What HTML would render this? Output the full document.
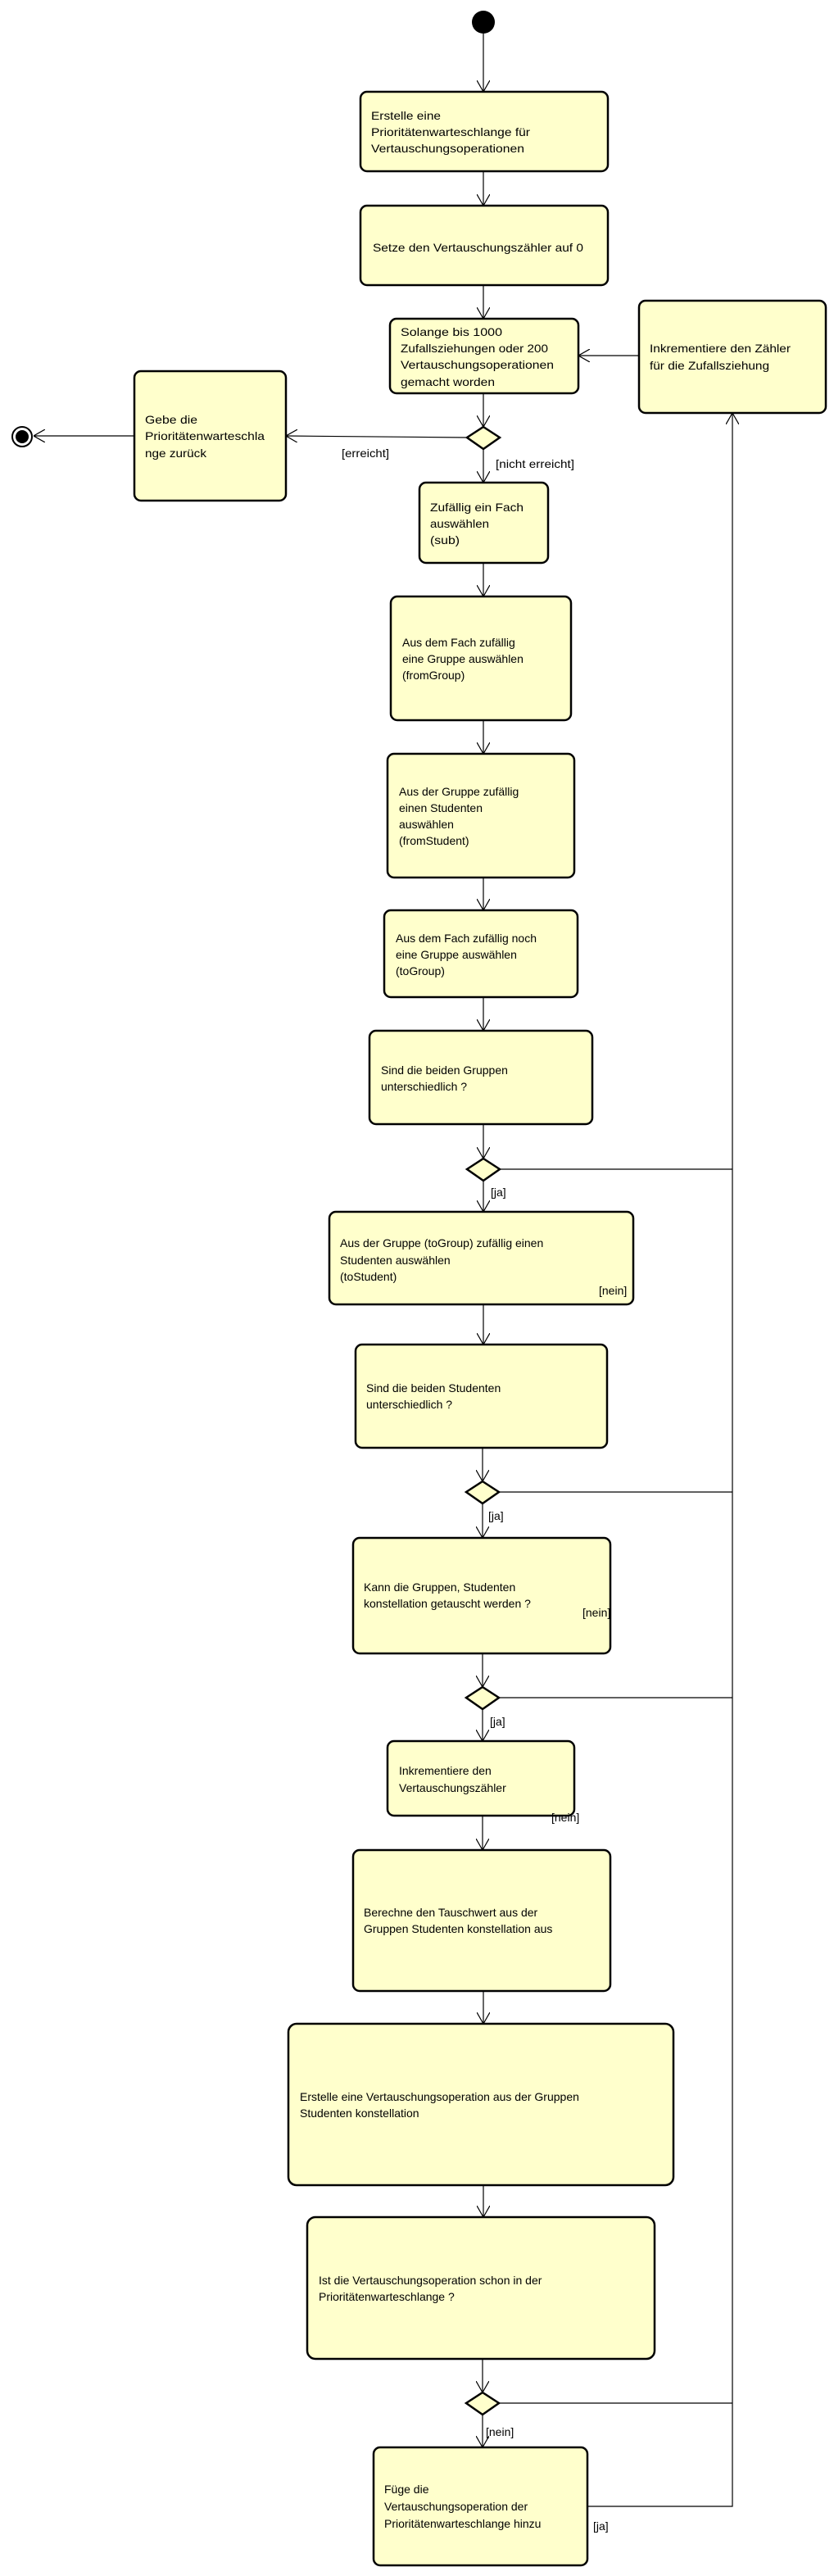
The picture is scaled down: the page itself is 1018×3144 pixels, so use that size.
<!DOCTYPE html>
<html><head><meta charset="utf-8"><style>
html,body{margin:0;padding:0;background:#fff;}
svg{display:block;}
.b{fill:#FFFFCC;stroke:#000;stroke-width:2.5;}
.l{stroke:#000;stroke-width:1.2;fill:none;}
text{font-family:"Liberation Sans",Arial,sans-serif;font-size:14px;fill:#000;}
.n{font-family:"Liberation Sans Narrow","Liberation Sans",sans-serif;}
</style></head><body>
<svg width="1018" height="3144" viewBox="0 0 1018 3144" xmlns="http://www.w3.org/2000/svg">
<defs>
<marker id="a" viewBox="0 0 14 16" refX="14" refY="8" markerWidth="14" markerHeight="16" markerUnits="userSpaceOnUse" orient="auto">
<path d="M0,0 L14,8 L0,16" fill="none" stroke="#000" stroke-width="1.2"/>
</marker>
</defs>
<circle cx="590" cy="27" r="14" fill="#000"/>
<line class="l" x1="590" y1="41" x2="590" y2="112" marker-end="url(#a)"/>
<rect class="b" x="440" y="112" width="302" height="97" rx="8"/>
<text class="n" x="453" y="146" textLength="85" lengthAdjust="spacingAndGlyphs">Erstelle eine</text>
<text class="n" x="453" y="166" textLength="194" lengthAdjust="spacingAndGlyphs">Prioritätenwarteschlange für</text>
<text class="n" x="453" y="186" textLength="187" lengthAdjust="spacingAndGlyphs">Vertauschungsoperationen</text>
<line class="l" x1="590" y1="209" x2="590" y2="251" marker-end="url(#a)"/>
<rect class="b" x="440" y="251" width="302" height="97" rx="8"/>
<text class="n" x="455" y="307" textLength="257" lengthAdjust="spacingAndGlyphs">Setze den Vertauschungszähler auf 0</text>
<line class="l" x1="590" y1="348" x2="590" y2="389" marker-end="url(#a)"/>
<rect class="b" x="476" y="389" width="230" height="91" rx="8"/>
<text class="n" x="489" y="410" textLength="124" lengthAdjust="spacingAndGlyphs">Solange bis 1000</text>
<text class="n" x="489" y="430" textLength="180" lengthAdjust="spacingAndGlyphs">Zufallsziehungen oder 200</text>
<text class="n" x="489" y="450" textLength="187" lengthAdjust="spacingAndGlyphs">Vertauschungsoperationen</text>
<text class="n" x="489" y="471" textLength="115" lengthAdjust="spacingAndGlyphs">gemacht worden</text>
<rect class="b" x="780" y="367" width="228" height="137" rx="8"/>
<text class="n" x="793" y="430" textLength="172" lengthAdjust="spacingAndGlyphs">Inkrementiere den Zähler</text>
<text class="n" x="793" y="451" textLength="146" lengthAdjust="spacingAndGlyphs">für die Zufallsziehung</text>
<line class="l" x1="780" y1="434" x2="706" y2="434" marker-end="url(#a)"/>
<line class="l" x1="590" y1="480" x2="590" y2="521" marker-end="url(#a)"/>
<polygon class="b" points="590,521 610,534 590,548 570,534"/>
<line class="l" x1="570" y1="534" x2="349" y2="532" marker-end="url(#a)"/>
<text class="n" x="417" y="558" textLength="58" lengthAdjust="spacingAndGlyphs">[erreicht]</text>
<text class="n" x="605" y="571" textLength="96" lengthAdjust="spacingAndGlyphs">[nicht erreicht]</text>
<line class="l" x1="590" y1="548" x2="590" y2="589" marker-end="url(#a)"/>
<rect class="b" x="164" y="453" width="185" height="158" rx="8"/>
<text class="n" x="177" y="517" textLength="64" lengthAdjust="spacingAndGlyphs">Gebe die</text>
<text class="n" x="177" y="537" textLength="146" lengthAdjust="spacingAndGlyphs">Prioritätenwarteschla</text>
<text class="n" x="177" y="558" textLength="75" lengthAdjust="spacingAndGlyphs">nge zurück</text>
<line class="l" x1="164" y1="532" x2="41" y2="532" marker-end="url(#a)"/>
<circle cx="27" cy="533" r="12" fill="#fff" stroke="#000" stroke-width="2"/>
<circle cx="27" cy="533" r="8" fill="#000"/>
<rect class="b" x="512" y="589" width="157" height="98" rx="8"/>
<text class="n" x="525" y="624" textLength="114" lengthAdjust="spacingAndGlyphs">Zufällig ein Fach</text>
<text class="n" x="525" y="644" textLength="72" lengthAdjust="spacingAndGlyphs">auswählen</text>
<text class="n" x="525" y="664" textLength="36" lengthAdjust="spacingAndGlyphs">(sub)</text>
<line class="l" x1="590" y1="687" x2="590" y2="728" marker-end="url(#a)"/>
<rect class="b" x="477" y="728" width="220" height="151" rx="8"/>
<text x="491" y="789">Aus dem Fach zufällig</text>
<text x="491" y="809">eine Gruppe auswählen</text>
<text x="491" y="829">(fromGroup)</text>
<line class="l" x1="590" y1="879" x2="590" y2="920" marker-end="url(#a)"/>
<rect class="b" x="473" y="920" width="228" height="151" rx="8"/>
<text x="487" y="971">Aus der Gruppe zufällig</text>
<text x="487" y="991">einen Studenten</text>
<text x="487" y="1011">auswählen</text>
<text x="487" y="1031">(fromStudent)</text>
<line class="l" x1="590" y1="1071" x2="590" y2="1111" marker-end="url(#a)"/>
<rect class="b" x="469" y="1111" width="236" height="106" rx="8"/>
<text x="483" y="1150">Aus dem Fach zufällig noch</text>
<text x="483" y="1170">eine Gruppe auswählen</text>
<text x="483" y="1190">(toGroup)</text>
<line class="l" x1="590" y1="1217" x2="590" y2="1258" marker-end="url(#a)"/>
<rect class="b" x="451" y="1258" width="272" height="114" rx="8"/>
<text x="465" y="1311">Sind die beiden Gruppen</text>
<text x="465" y="1331">unterschiedlich ?</text>
<line class="l" x1="590" y1="1372" x2="590" y2="1414" marker-end="url(#a)"/>
<polygon class="b" points="590,1414 610,1427 590,1441 570,1427"/>
<line class="l" x1="610" y1="1427" x2="894" y2="1427"/>
<text class="n" x="599" y="1460">[ja]</text>
<line class="l" x1="590" y1="1441" x2="590" y2="1479" marker-end="url(#a)"/>
<rect class="b" x="402" y="1479" width="371" height="113" rx="8"/>
<text x="415" y="1522">Aus der Gruppe (toGroup) zufällig einen</text>
<text x="415" y="1543">Studenten auswählen</text>
<text x="415" y="1563">(toStudent)</text>
<text class="n" x="731" y="1580">[nein]</text>
<line class="l" x1="590" y1="1592" x2="590" y2="1641" marker-end="url(#a)"/>
<rect class="b" x="434" y="1641" width="307" height="126" rx="8"/>
<text x="447" y="1699">Sind die beiden Studenten</text>
<text x="447" y="1719">unterschiedlich ?</text>
<line class="l" x1="589" y1="1767" x2="589" y2="1808" marker-end="url(#a)"/>
<polygon class="b" points="589,1808 609,1821 589,1835 569,1821"/>
<line class="l" x1="609" y1="1821" x2="894" y2="1821"/>
<text class="n" x="596" y="1855">[ja]</text>
<line class="l" x1="589" y1="1835" x2="589" y2="1877" marker-end="url(#a)"/>
<rect class="b" x="431" y="1877" width="314" height="141" rx="8"/>
<text x="444" y="1942">Kann die Gruppen, Studenten</text>
<text x="444" y="1962">konstellation getauscht werden ?</text>
<text class="n" x="711" y="1973">[nein]</text>
<line class="l" x1="589" y1="2018" x2="589" y2="2059" marker-end="url(#a)"/>
<polygon class="b" points="589,2059 609,2072 589,2086 569,2072"/>
<line class="l" x1="609" y1="2072" x2="894" y2="2072"/>
<text class="n" x="598" y="2106">[ja]</text>
<line class="l" x1="589" y1="2086" x2="589" y2="2125" marker-end="url(#a)"/>
<rect class="b" x="473" y="2125" width="228" height="91" rx="8"/>
<text x="487" y="2166">Inkrementiere den</text>
<text x="487" y="2187">Vertauschungszähler</text>
<text class="n" x="673" y="2223">[nein]</text>
<line class="l" x1="589" y1="2216" x2="589" y2="2258" marker-end="url(#a)"/>
<rect class="b" x="431" y="2258" width="314" height="172" rx="8"/>
<text x="444" y="2339">Berechne den Tauschwert aus der</text>
<text x="444" y="2359">Gruppen Studenten konstellation aus</text>
<line class="l" x1="590" y1="2430" x2="590" y2="2470" marker-end="url(#a)"/>
<rect class="b" x="352" y="2470" width="470" height="197" rx="10"/>
<text x="366" y="2564">Erstelle eine Vertauschungsoperation aus der Gruppen</text>
<text x="366" y="2584">Studenten konstellation</text>
<line class="l" x1="590" y1="2667" x2="590" y2="2706" marker-end="url(#a)"/>
<rect class="b" x="375" y="2706" width="424" height="173" rx="10"/>
<text x="389" y="2788">Ist die Vertauschungsoperation schon in der</text>
<text x="389" y="2808">Prioritätenwarteschlange ?</text>
<line class="l" x1="589" y1="2879" x2="589" y2="2920" marker-end="url(#a)"/>
<polygon class="b" points="589,2920 609,2933 589,2947 569,2933"/>
<line class="l" x1="609" y1="2933" x2="894" y2="2933"/>
<text class="n" x="593" y="2973">[nein]</text>
<line class="l" x1="589" y1="2947" x2="589" y2="2987" marker-end="url(#a)"/>
<rect class="b" x="456" y="2987" width="261" height="144" rx="8"/>
<text x="469" y="3043">Füge die</text>
<text x="469" y="3064">Vertauschungsoperation der</text>
<text x="469" y="3085">Prioritätenwarteschlange hinzu</text>
<text class="n" x="724" y="3088">[ja]</text>
<polyline class="l" points="717,3059 894,3059 894,504" marker-end="url(#a)"/>
</svg>
</body></html>
